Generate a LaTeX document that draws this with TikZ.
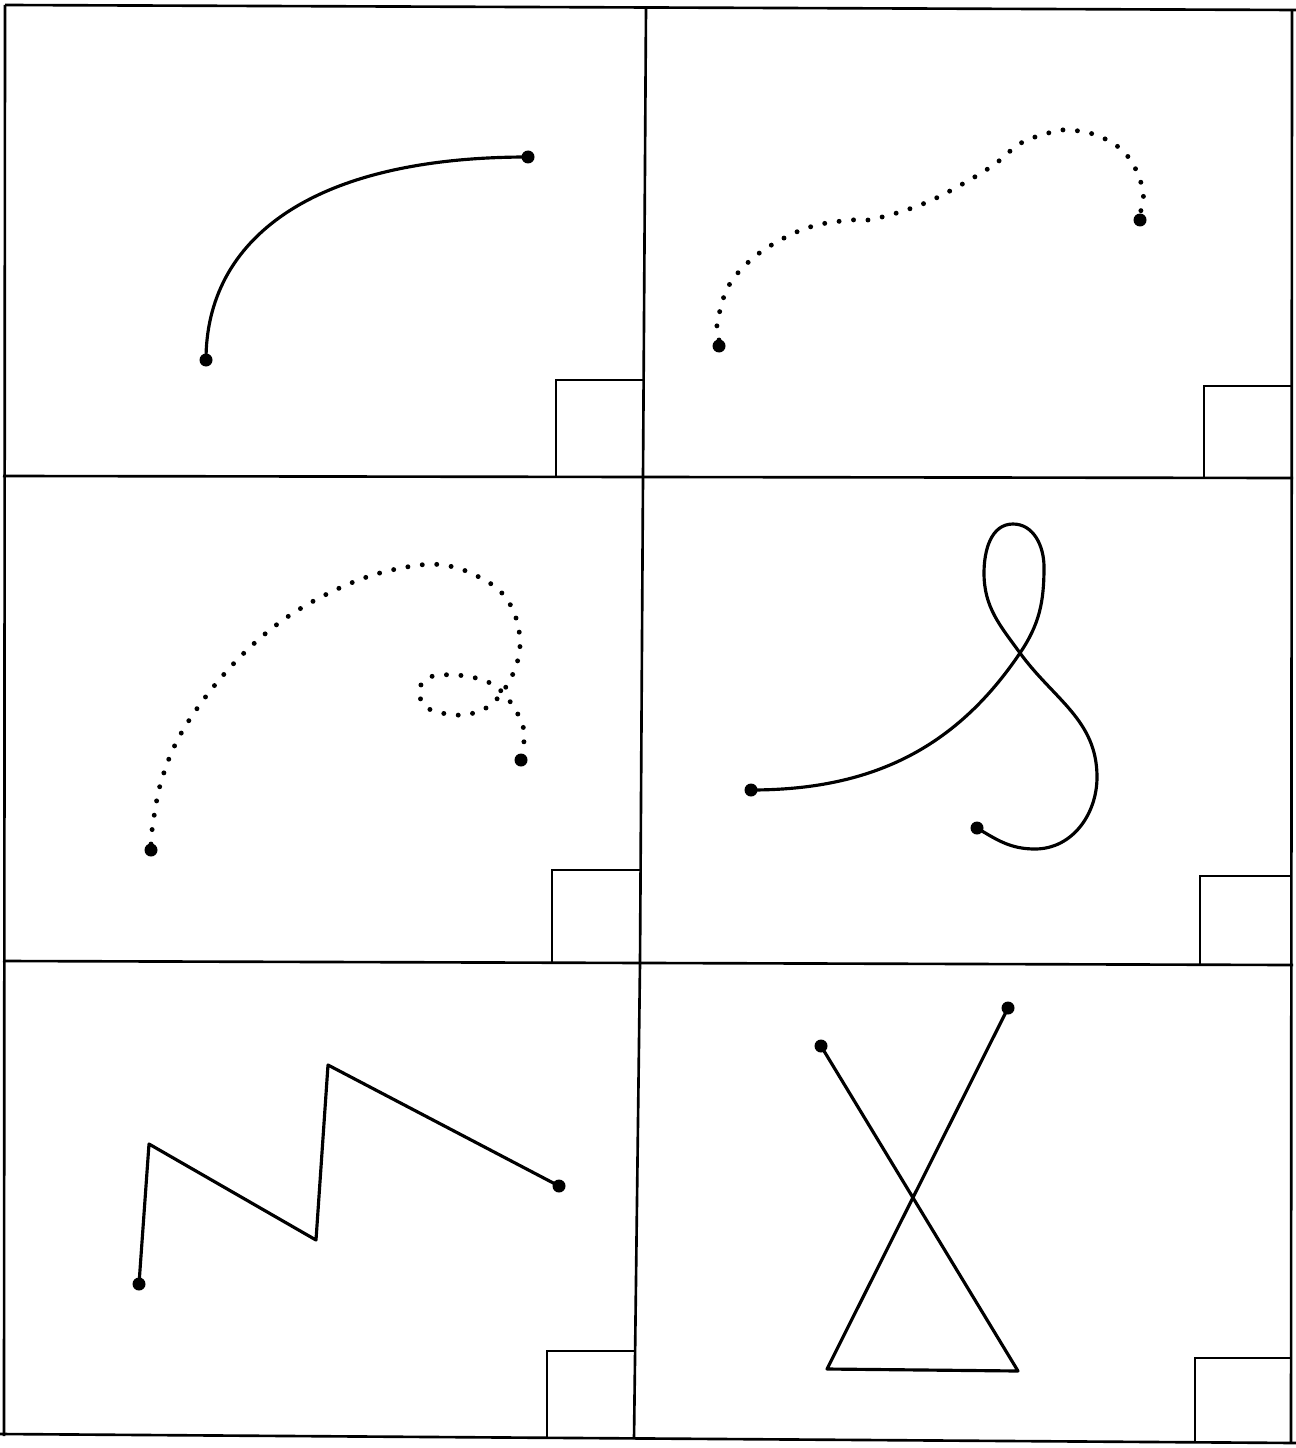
\documentclass[tikz,border=0pt]{standalone}
\usepackage{tikz}
\usetikzlibrary{positioning}

\tikzset{
    gridline/.style={line width=0.75pt},
    curveline/.style={line width=0.9pt, line join=round},
    dotline/.style={line width=1.4pt, line cap=round, dash pattern=on 0pt off 1.45mm},
    enddot/.style={circle, fill, inner sep=0pt, minimum size=1.3mm}
}

\begin{document}
\begin{tikzpicture}[x=0.1mm, y=-0.1mm]
    \useasboundingbox (0,0) rectangle (1296,1448);

    % Grid
    \draw[gridline] (5,5) -- (1296,10);
    \draw[gridline] (5,5) -- (4,1436);
    \draw[gridline] (1292,10) -- (1291,1442);
    \draw[gridline] (646,7) -- (643,477) -- (640,963) -- (634,1439);
    \draw[gridline] (3,476) -- (1293,478);
    \draw[gridline] (3,961) -- (1293,965);
    \draw[gridline] (0,1434) -- (1296,1443);

    % Corner boxes
    \draw[gridline] (556,477) |- (643,380);
    \draw[gridline] (1204,478) |- (1292,386);
    \draw[gridline] (552,962) |- (641,870);
    \draw[gridline] (1200,964) |- (1292,876);
    \draw[gridline] (547,1438) |- (635,1351);
    \draw[gridline] (1195,1442) |- (1291,1358);

    % Panel 1: solid arc
    \node[enddot] (a1) at (206,360) {};
    \node[enddot] (a2) at (528,157) {};
    \draw[curveline] (a1.center) .. controls (206,240) and (310,157) .. (a2.center);

    % Panel 2: dotted wave
    \node[enddot] (b1) at (719,346) {};
    \node[enddot] (b2) at (1140,220) {};
    \draw[dotline] plot[smooth, tension=0.6] coordinates {
        (719,340) (717,325) (728,287) (753,258) (786,237) (817,225) (852,220)
        (868,220) (900,212) (932,200) (966,182) (995,164) (1021,143) (1052,132)
        (1068,130) (1093,134) (1117,146) (1133,164) (1143,190) (1142,205) (1140,214)};

    % Panel 3: dotted arc with loop
    \node[enddot] (c1) at (151,850) {};
    \node[enddot] (c2) at (521,760) {};
    \draw[dotline] plot[smooth, tension=0.6] coordinates {
        (151,844) (153,823) (161,782) (178,739) (207,695) (243,654) (283,620)
        (327,594) (373,575) (420,565) (449,566) (475,575) (500,591) (515,615)
        (520,646) (512,676) (493,703) (470,714) (447,714) (426,707) (419,690)
        (430,677) (456,675) (483,680) (500,690) (515,709) (524,730) (523,748) (521,754)};

    % Panel 4: solid loop
    \node[enddot] (d1) at (751,790) {};
    \node[enddot] (d2) at (977,828) {};
    \coordinate (dx) at (1020,653); % crossing
    \draw[curveline] (d1.center) to[out=0, in=236] (dx)
        to[out=56, in=-90] (1044,567) to[out=90, in=0] (1013,524)
        to[out=180, in=90] (984,573) to[out=-90, in=126] (dx)
        to[out=-54, in=90] (1097,777) to[out=-90, in=0] (1035,849)
        to[out=180, in=-31] (d2.center);

    % Panel 5: zigzag
    \node[enddot] (e1) at (139,1284) {};
    \node[enddot] (e2) at (559,1186) {};
    \coordinate (e3) at (149,1144);
    \coordinate (e4) at (316,1240);
    \coordinate (e5) at (328,1065);
    \draw[curveline] (e1.center) -- (e3) -- (e4) -- (e5) -- (e2.center);

    % Panel 6: crossed triangle
    \node[enddot] (f1) at (821,1046) {};
    \node[enddot] (f2) at (1008,1008) {};
    \coordinate (f3) at (1018,1371);
    \coordinate (f4) at (827,1369);
    \draw[curveline] (f1.center) -- (f3) -- (f4) -- (f2.center);
\end{tikzpicture}
\end{document}
